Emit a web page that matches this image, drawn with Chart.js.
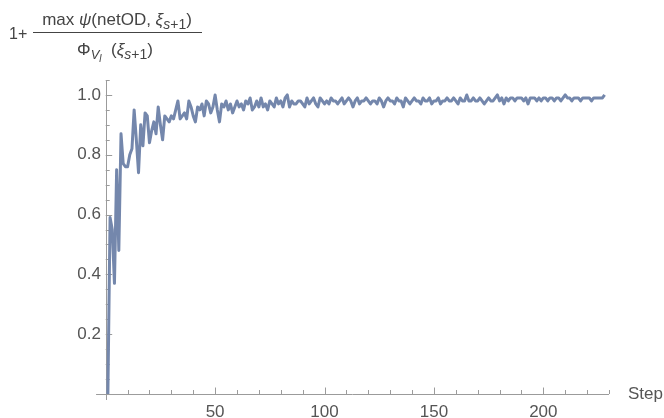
<!DOCTYPE html>
<html>
<head>
<meta charset="utf-8">
<script src="https://cdn.jsdelivr.net/npm/chart.js@4.4.0/dist/chart.umd.min.js"></script>
<style>
html, body { margin: 0; background: #fff; }
</style>
</head>
<body>
<canvas id="myChart" width="664" height="418"></canvas>
<script>
// step numbers start at 1, one value per step
const firstStep = 1
const ratioValues = [
    0.00, 0.59, 0.55, 0.37, 0.75, 0.48, 0.87, 0.77, 0.76, 0.76,
    0.80, 0.82, 0.95, 0.85, 0.74, 0.90, 0.83, 0.94, 0.93, 0.84,
    0.88, 0.91, 0.87, 0.96, 0.90, 0.85, 0.93, 0.92, 0.91, 0.93,
    0.92, 0.95, 0.98, 0.92, 0.93, 0.94, 0.92, 0.98, 0.96, 0.93,
    0.91, 0.96, 0.95, 0.97, 0.93, 0.98, 0.97, 0.94, 0.96, 1.00,
    0.95, 0.91, 0.97, 0.96, 0.98, 0.95, 0.97, 0.94, 0.96, 0.98,
    0.96, 0.97, 0.95, 0.98, 0.97, 0.99, 0.95, 0.96, 0.98, 0.96,
    0.99, 0.96, 0.97, 0.95, 0.98, 0.97, 0.96, 0.99, 0.97, 0.98,
    0.96, 0.99, 1.00, 0.96, 0.98, 0.97, 0.97, 0.98, 0.98, 0.97,
    0.96, 0.99, 0.97, 0.98, 0.99, 0.97, 0.96, 0.99, 0.98, 0.97,
    0.98, 0.97, 0.99, 0.98, 0.98, 0.97, 0.98, 0.99, 0.97, 0.98,
    0.99, 0.98, 0.96, 0.98, 0.99, 0.97, 0.98, 0.98, 0.99, 0.98,
    0.97, 0.98, 0.98, 0.97, 0.99, 0.98, 0.96, 0.98, 0.99, 0.98,
    0.98, 0.97, 0.99, 0.98, 0.98, 0.96, 0.99, 0.98, 0.97, 0.98,
    0.99, 0.98, 0.98, 0.97, 0.99, 0.98, 0.98, 0.99, 0.97, 0.98,
    0.98, 0.99, 0.97, 0.98, 0.98, 0.99, 0.98, 0.98, 0.99, 0.98,
    0.97, 0.99, 0.98, 0.98, 1.00, 0.98, 0.98, 0.99, 0.98, 0.98,
    0.99, 0.98, 0.97, 0.98, 0.99, 0.98, 0.98, 0.99, 1.00, 0.98,
    0.99, 0.97, 0.99, 0.98, 0.99, 0.99, 0.98, 0.99, 0.99, 0.99,
    0.98, 0.99, 0.97, 0.99, 0.99, 0.99, 0.98, 0.99, 0.98, 0.99,
    0.99, 0.98, 0.99, 0.99, 0.98, 0.99, 0.99, 0.98, 0.99, 1.00,
    0.99, 0.99, 0.98, 0.99, 0.99, 0.99, 0.98, 0.99, 0.99, 0.99,
    0.99, 0.98, 0.99, 0.99, 0.99, 0.99, 0.99, 1.00
]
const xMajorTicks = [50, 100, 150, 200]
const yMajorTicks = [0.2, 0.4, 0.6, 0.8, 1.0]
const xAxisTitle = "Step"

const lineColor = "rgb(116, 135, 172)"
const axisColor = "#9b9b9b"
const textColor = "#555555"
const fontFamily = "'Liberation Sans', Arial, sans-serif"
const xAxisStart = -4.4 // where the horizontal axis line begins, left of the y axis

function isMajor(value, list) {
    return list.some(m => Math.abs(m - value) < 1e-6)
}

// text made of runs, each run can be italic / smaller / shifted down
function runsWidth(ctx, runs) {
    let w = 0
    runs.forEach(r => {
        ctx.font = (r.italic ? "italic " : "") + r.size + "px " + fontFamily
        w += ctx.measureText(r.t).width
    })
    return w
}

function drawRuns(ctx, runs, centerX, baseline) {
    let x = centerX - runsWidth(ctx, runs) / 2
    runs.forEach(r => {
        ctx.font = (r.italic ? "italic " : "") + r.size + "px " + fontFamily
        ctx.fillText(r.t, x, baseline + (r.dy || 0))
        x += ctx.measureText(r.t).width
    })
}

const numeratorRuns = [
    { t: "max ", size: 17 },
    { t: "\u03C8", size: 17, italic: true },
    { t: "(netOD, ", size: 17 },
    { t: "\u03BE", size: 17, italic: true },
    { t: "s", size: 14, italic: true, dy: 4 },
    { t: "+1", size: 14, dy: 4 },
    { t: ")", size: 17 }
]
const denominatorRuns = [
    { t: "\u03A6", size: 17 },
    { t: "V", size: 13, italic: true, dy: 4 },
    { t: "l", size: 10, italic: true, dy: 7 },
    { t: "  (", size: 17 },
    { t: "\u03BE", size: 17, italic: true },
    { t: "s", size: 14, italic: true, dy: 4 },
    { t: "+1", size: 14, dy: 4 },
    { t: ")", size: 17 }
]

const mmaAxes = {
    id: "mmaAxes",
    beforeDatasetsDraw(chart) {
        const ctx = chart.ctx
        const area = chart.chartArea
        const xs = chart.scales.x
        const ys = chart.scales.y
        const x0 = xs.getPixelForValue(0)
        const y0 = ys.getPixelForValue(0)

        ctx.save()
        ctx.strokeStyle = axisColor
        ctx.lineWidth = 1
        ctx.beginPath()
        ctx.moveTo(xs.getPixelForValue(xAxisStart), y0 + 0.5)
        ctx.lineTo(area.right, y0 + 0.5)
        ctx.moveTo(Math.round(x0) + 0.5, area.top)
        ctx.lineTo(Math.round(x0) + 0.5, area.bottom)

        xs.ticks.forEach(t => {
            if (t.value <= 1e-9) return
            const px = Math.round(xs.getPixelForValue(t.value)) + 0.5
            const len = isMajor(t.value, xMajorTicks) ? 6.5 : 4
            ctx.moveTo(px, y0)
            ctx.lineTo(px, y0 - len)
        })
        ys.ticks.forEach(t => {
            if (t.value <= 1e-9) return
            const py = Math.round(ys.getPixelForValue(t.value)) + 0.5
            const len = isMajor(t.value, yMajorTicks) ? 6.5 : 4
            ctx.moveTo(x0, py)
            ctx.lineTo(x0 + len, py)
        })
        ctx.stroke()
        ctx.restore()
    },
    afterDraw(chart) {
        const ctx = chart.ctx
        const y0 = chart.scales.y.getPixelForValue(0)
        ctx.save()
        ctx.fillStyle = textColor
        ctx.font = "17px " + fontFamily
        ctx.textBaseline = "middle"
        ctx.fillText(xAxisTitle, 628, y0)

        // y title, written as a fraction
        ctx.fillStyle = "#444444"
        ctx.textBaseline = "alphabetic"
        ctx.font = "16px " + fontFamily
        ctx.fillText("1+", 9, 38.5)
        ctx.fillRect(33, 32, 169, 1)
        drawRuns(ctx, numeratorRuns, 117, 25)
        drawRuns(ctx, denominatorRuns, 115, 55)
        ctx.restore()
    }
}

const ctx = document.getElementById("myChart").getContext("2d")
const chart = new Chart(ctx, {
    type: "line",
    data: {
        datasets: [{
            data: ratioValues.map((v, i) => ({ x: firstStep + i, y: v })),
            borderColor: lineColor,
            borderWidth: 3,
            borderJoinStyle: "round",
            pointRadius: 0,
            tension: 0,
            fill: false
        }]
    },
    options: {
        responsive: false,
        animation: false,
        devicePixelRatio: 1,
        layout: { padding: { left: 42, top: 80, right: 55, bottom: 0 } },
        plugins: { legend: { display: false }, tooltip: { enabled: false } },
        scales: {
            x: {
                type: "linear",
                min: -1.69,
                max: 230,
                grid: { display: false, drawTicks: false, tickLength: 0 },
                border: { display: false },
                ticks: {
                    stepSize: 10,
                    autoSkip: false,
                    maxRotation: 0,
                    padding: 2,
                    color: textColor,
                    font: { size: 17, family: fontFamily },
                    callback: v => isMajor(v, xMajorTicks) ? String(v) : ""
                },
                afterFit: s => { s.height = 18 }
            },
            y: {
                type: "linear",
                min: -0.02,
                max: 1.05,
                grid: { display: false, drawTicks: false, tickLength: 0 },
                border: { display: false },
                ticks: {
                    stepSize: 0.05,
                    autoSkip: false,
                    padding: 1,
                    color: textColor,
                    font: { size: 17, family: fontFamily },
                    callback: v => isMajor(v, yMajorTicks) ? v.toFixed(1) : ""
                },
                afterFit: s => { s.width = 60 }
            }
        }
    },
    plugins: [mmaAxes]
})
</script>
</body>
</html>
